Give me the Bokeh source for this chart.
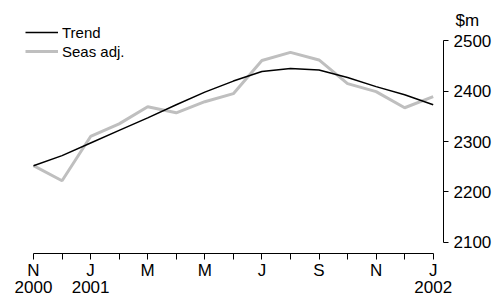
from bokeh.plotting import figure
from bokeh.models import Range1d, LinearAxis, FixedTicker, Legend, LegendItem, Label
from bokeh.embed import file_html
from bokeh.resources import INLINE

# ---- data ----
months = list(range(15))  # Nov 2000 .. Jan 2002
month_labels = ["N", "", "J", "", "M", "", "M", "", "J", "", "S", "", "N", "", "J"]
year_ticks = [0, 2, 14]
year_labels = ["2000", "2001", "2002"]
trend = [2252, 2272, 2297, 2322, 2347, 2373, 2398, 2420, 2439, 2445, 2442, 2427, 2409, 2393, 2373]
seas_adj = [2252, 2222, 2310, 2335, 2369, 2357, 2379, 2395, 2461, 2477, 2462, 2415, 2399, 2367, 2389]
y_ticks = [2100, 2200, 2300, 2400, 2500]

# ---- layout (figure pixels) ----
W, H = 492, 297
X0, DX = 33.0, 28.55     # pixel of month 0, pixels per month
Y0, DY = 241.7, 0.5035   # pixel of 2100, pixels per $m

def vx(px):
    return (px - X0) / DX

def vy(py):
    return 2100 + (Y0 - py) / DY

FONT = "Liberation Sans"
FS = "17px"

p = figure(width=W, height=H, x_range=Range1d(vx(0), vx(W)), y_range=Range1d(vy(H), vy(0)),
           output_backend="svg", toolbar_location=None, min_border=0,
           x_axis_type=None, y_axis_type=None)
p.outline_line_color = None
p.background_fill_color = "white"
p.border_fill_color = "white"

r_seas = p.line(months, seas_adj, line_color="#bfbfbf", line_width=3)
r_trend = p.line(months, trend, line_color="black", line_width=1.5)

xaxis = LinearAxis(ticker=FixedTicker(ticks=months),
                   major_label_overrides={m: l for m, l in zip(months, month_labels)},
                   fixed_location=vy(252.5), bounds=(0, 14),
                   major_tick_in=0, major_tick_out=6, minor_tick_line_color=None,
                   major_label_standoff=2, major_label_text_font=FONT,
                   major_label_text_font_size=FS, major_label_text_color="black",
                   axis_line_color="black", major_tick_line_color="black")
p.add_layout(xaxis, "below")

yearaxis = LinearAxis(ticker=FixedTicker(ticks=year_ticks),
                      major_label_overrides={m: l for m, l in zip(year_ticks, year_labels)},
                      fixed_location=vy(280), major_tick_in=0, major_tick_out=0,
                      minor_tick_line_color=None, major_tick_line_color=None,
                      axis_line_color=None, major_label_standoff=0,
                      major_label_text_font=FONT, major_label_text_font_size=FS,
                      major_label_text_color="black")
p.add_layout(yearaxis, "below")

yaxis = LinearAxis(ticker=FixedTicker(ticks=y_ticks), fixed_location=vx(443),
                   bounds=(2100, 2500), major_tick_in=0, major_tick_out=5,
                   minor_tick_line_color=None, major_label_standoff=5,
                   major_label_text_font=FONT, major_label_text_font_size=FS,
                   major_label_text_color="black", axis_line_color="black",
                   major_tick_line_color="black")
p.add_layout(yaxis, "right")

p.add_layout(Label(x=vx(455), y=vy(20), text="$m", text_baseline="middle", text_align="left",
                   text_font=FONT, text_font_size=FS, text_color="black"))

legend = Legend(items=[LegendItem(label="Trend", renderers=[r_trend]),
                       LegendItem(label="Seas adj.", renderers=[r_seas])],
                location=(25, 237.5), glyph_width=33, glyph_height=16, label_height=16,
                spacing=2, padding=0, margin=0, label_standoff=4,
                border_line_color=None, background_fill_alpha=0,
                label_text_font=FONT, label_text_font_size="15px", label_text_color="black")
p.add_layout(legend)

open("out.html", "w").write(file_html(p, INLINE))
